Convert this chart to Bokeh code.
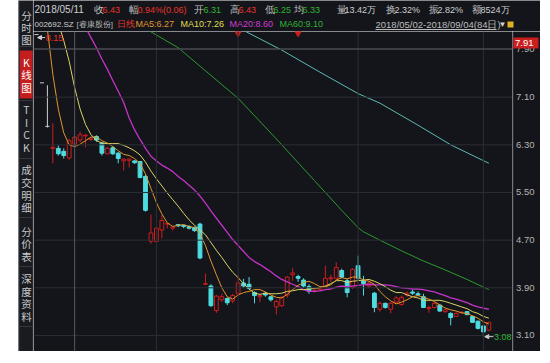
import numpy as np
from bokeh.plotting import figure
from bokeh.layouts import row, column
from bokeh.models import Range1d, Span, Label, Arrow, NormalHead, Spacer
from bokeh.core.properties import value
from bokeh.embed import file_html
from bokeh.resources import INLINE

# ---------------- data ----------------
opens = [8.15, 7.34, 6.61, 6.24, 6.24, 6.19, 6.08, 6.31, 6.38, 6.45,
         6.39, 6.44, 6.33, 6.15, 6.25, 6.16, 6.03, 6.04, 6.03, 6.02,
         5.77, 4.68, 4.68, 4.87, 4.97, 4.90, 4.96, 4.95, 4.93, 4.91,
         4.97, 3.96, 3.93, 3.52, 3.70, 3.72, 3.68, 3.80, 3.98, 3.96,
         3.82, 3.75, 3.81, 3.75, 3.58, 3.60, 3.78, 4.12, 4.09, 4.03,
         3.92, 3.84, 3.87, 3.91, 4.05, 4.06, 4.19, 4.02, 3.91, 4.27,
         4.02, 3.93, 3.81, 3.54, 3.64, 3.54, 3.66, 3.62, 3.78, 3.83,
         3.80, 3.75, 3.55, 3.57, 3.61, 3.50, 3.47, 3.42, 3.48, 3.50,
         3.42, 3.34, 3.26, 3.19]
highs = [8.15, 7.34, 7.30, 6.66, 6.29, 6.24, 6.40, 6.43, 6.52, 6.48,
         6.42, 6.46, 6.35, 6.27, 6.28, 6.18, 6.07, 6.07, 6.04, 6.03,
         5.80, 5.13, 4.93, 5.12, 4.99, 4.93, 4.97, 4.96, 4.95, 4.93,
         4.99, 4.14, 3.96, 3.78, 3.80, 3.74, 3.80, 4.11, 4.05, 4.08,
         3.84, 3.80, 3.83, 3.76, 3.70, 3.76, 4.10, 4.23, 4.12, 4.06,
         3.96, 3.88, 3.92, 4.27, 4.12, 4.33, 4.22, 4.05, 4.23, 4.44,
         4.10, 4.02, 3.83, 3.67, 3.65, 3.66, 3.76, 3.77, 3.84, 3.87,
         3.84, 3.80, 3.60, 3.66, 3.63, 3.55, 3.49, 3.49, 3.51, 3.51,
         3.43, 3.35, 3.27, 3.33]
lows = [8.15, 7.34, 6.59, 5.99, 6.12, 6.07, 6.05, 6.25, 6.34, 6.26,
        6.36, 6.35, 6.12, 6.14, 6.13, 5.99, 5.87, 5.92, 5.98, 5.74,
        5.18, 4.64, 4.65, 4.73, 4.90, 4.86, 4.92, 4.90, 4.88, 4.84,
        4.38, 3.95, 3.58, 3.48, 3.66, 3.61, 3.64, 3.76, 3.90, 3.87,
        3.64, 3.66, 3.75, 3.67, 3.45, 3.58, 3.73, 4.02, 4.00, 3.90,
        3.80, 3.82, 3.85, 3.89, 4.00, 4.04, 4.06, 3.74, 3.88, 4.03,
        3.77, 3.90, 3.49, 3.50, 3.55, 3.47, 3.64, 3.60, 3.75, 3.78,
        3.76, 3.56, 3.48, 3.55, 3.50, 3.48, 3.27, 3.41, 3.47, 3.44,
        3.31, 3.20, 3.08, 3.17]
closes = [8.15, 7.34, 6.61, 6.26, 6.15, 6.12, 6.37, 6.43, 6.47, 6.46,
          6.40, 6.38, 6.16, 6.24, 6.15, 6.07, 6.06, 6.06, 6.00, 5.75,
          5.20, 4.82, 4.90, 5.03, 4.98, 4.92, 4.94, 4.93, 4.90, 4.86,
          4.40, 3.97, 3.60, 3.76, 3.75, 3.65, 3.77, 3.98, 3.93, 3.89,
          3.77, 3.77, 3.78, 3.70, 3.67, 3.74, 4.08, 4.15, 4.06, 3.93,
          3.84, 3.86, 3.90, 4.06, 4.07, 4.24, 4.08, 3.82, 4.21, 4.06,
          3.97, 3.98, 3.57, 3.64, 3.57, 3.64, 3.73, 3.74, 3.81, 3.81,
          3.78, 3.57, 3.57, 3.64, 3.51, 3.53, 3.40, 3.47, 3.49, 3.45,
          3.32, 3.22, 3.16, 3.32]

ma5 = [10.00, 9.16, 8.24, 7.48, 6.90, 6.50, 6.30, 6.27, 6.31, 6.37,
       6.43, 6.43, 6.37, 6.33, 6.27, 6.20, 6.14, 6.12, 6.07, 5.99,
       5.81, 5.57, 5.33, 5.14, 4.99, 4.93, 4.95, 4.96, 4.93, 4.91,
       4.81, 4.61, 4.35, 4.12, 3.90, 3.75, 3.71, 3.78, 3.82, 3.84,
       3.87, 3.87, 3.83, 3.78, 3.74, 3.73, 3.79, 3.87, 3.94, 3.99,
       4.01, 3.97, 3.92, 3.92, 3.95, 4.03, 4.07, 4.05, 4.08, 4.08,
       4.03, 4.01, 3.96, 3.84, 3.75, 3.68, 3.63, 3.66, 3.70, 3.75,
       3.77, 3.74, 3.71, 3.67, 3.61, 3.56, 3.53, 3.51, 3.48, 3.47,
       3.43, 3.39, 3.33, 3.29]
ma10 = [9.90, 9.50, 9.10, 8.70, 8.35, 8.05, 7.70, 7.26, 6.90, 6.64,
        6.47, 6.37, 6.33, 6.32, 6.32, 6.32, 6.29, 6.25, 6.20, 6.13,
        6.01, 5.86, 5.73, 5.61, 5.49, 5.38, 5.27, 5.15, 5.04, 4.95,
        4.87, 4.79, 4.66, 4.53, 4.41, 4.28, 4.16, 4.07, 3.97, 3.88,
        3.81, 3.79, 3.81, 3.80, 3.80, 3.81, 3.84, 3.85, 3.87, 3.87,
        3.88, 3.89, 3.90, 3.93, 3.97, 4.02, 4.02, 3.99, 4.01, 4.02,
        4.03, 4.04, 4.01, 3.97, 3.92, 3.86, 3.82, 3.82, 3.78, 3.75,
        3.73, 3.69, 3.69, 3.69, 3.69, 3.67, 3.64, 3.61, 3.58, 3.55,
        3.50, 3.47, 3.42, 3.39]
ma20 = [9.60, 9.50, 9.40, 9.25, 9.10, 8.95, 8.78, 8.60, 8.43, 8.27,
        8.10, 7.93, 7.74, 7.57, 7.38, 7.20, 7.01, 6.75, 6.55, 6.39,
        6.24, 6.11, 6.03, 5.96, 5.91, 5.85, 5.77, 5.70, 5.62, 5.54,
        5.44, 5.32, 5.19, 5.07, 4.95, 4.83, 4.71, 4.61, 4.51, 4.41,
        4.34, 4.29, 4.23, 4.17, 4.10, 4.04, 4.00, 3.96, 3.92, 3.87,
        3.84, 3.84, 3.85, 3.87, 3.88, 3.91, 3.93, 3.92, 3.93, 3.94,
        3.95, 3.96, 3.95, 3.95, 3.95, 3.94, 3.92, 3.90, 3.89, 3.88,
        3.88, 3.87, 3.85, 3.83, 3.80, 3.77, 3.73, 3.71, 3.68, 3.65,
        3.61, 3.58, 3.56, 3.54]
ma60_idx = [0, 7, 14, 20, 26, 30, 37, 44, 51, 56, 59, 60, 63, 67, 71, 75, 79, 83]
ma60_val = [9.45, 9.10, 8.65, 8.25, 7.93, 7.62, 7.08, 6.40, 5.70, 5.20, 4.91,
            4.84, 4.70, 4.52, 4.35, 4.20, 4.04, 3.87]
malong_idx = [0, 20, 30, 38, 45, 52, 59, 63, 70, 76, 83]
malong_val = [10.10, 9.10, 8.60, 8.22, 7.89, 7.52, 7.16, 7.00, 6.63, 6.30, 5.99]

price_ticks = [3.10, 3.90, 4.70, 5.50, 6.30, 7.10, 7.90]
month_start_idx = [22, 37, 59, 82]
event_idx = [37, 48]
event_price = [8.17, 8.17]
cursor_idx = 7
cursor_price = 7.91
cursor_date = "2018/05/11"
cursor_avg = 6.33
cursor_extra = [("量", "13.42万"), ("换", "2.32%"), ("振", "2.82%"), ("额", "8524万")]
stock_code = "002692.SZ"
stock_name = "[睿康股份]"
period_name = "日线"
range_text = "2018/05/02-2018/09/04(84日)"
side_groups = [["分", "时", "图"], ["K", "线", "图"], ["T", "I", "C", "K"],
               ["成", "交", "明", "细"], ["分", "价", "表"], ["深", "度", "资", "料"]]

# ---------------- styling ----------------
FONT = "Noto Sans CJK SC"
NUMFONT = "Liberation Sans"
BG = "#13151a"
SIDE_BG = "#191b20"
GRID = "#2b2e34"
CROSS = "#56595f"
AXIS = "#3c3f45"
RED = "#cf1d1d"
CYAN = "#4edce0"
DOJI = "#cfcfcf"
TXT_RED = "#e8342c"
TXT_GREEN = "#2fb52f"
TXT = "#cfcfcf"
LBL = "#bdbdbd"
C_MA5 = "#e0962f"
C_MA10 = "#dcd465"
C_MA20 = "#c533c8"
C_MA60 = "#2e9a2e"
C_LONG = "#5fb8b5"
PX_PER_PRICE = 59.58

n = len(closes)
x = np.arange(n)
O, H, L, C = (np.array(v) for v in (opens, highs, lows, closes))
top = np.maximum(O, C)
bot = np.minimum(O, C)
up = C > O
dn = C < O
fl = C == O

yr = Range1d(2.831, 8.202)

# ---------------- main price panel ----------------
main = figure(width=479, height=320, output_backend="svg", toolbar_location=None,
              x_range=Range1d(-0.55, 87.34), y_range=yr,
              x_axis_location=None, y_axis_location=None,
              background_fill_color=BG, border_fill_color=BG, min_border=0)
main.outline_line_color = None
main.grid.visible = False

for t in price_ticks:
    main.add_layout(Span(location=t, dimension="width", line_color=GRID, line_width=1))
for m in month_start_idx:
    main.add_layout(Span(location=m, dimension="height", line_color=GRID, line_width=1))
main.add_layout(Span(location=cursor_idx, dimension="height", line_color=CROSS, line_width=1))
main.add_layout(Span(location=cursor_price, dimension="width", line_color=CROSS, line_width=1))

# wicks
main.segment(x[up], H[up], x[up], top[up], color=RED, line_width=1)
main.segment(x[up], bot[up], x[up], L[up], color=RED, line_width=1)
main.segment(x[dn], H[dn], x[dn], L[dn], color=CYAN, line_width=1)
main.segment(x[fl], H[fl], x[fl], L[fl], color=DOJI, line_width=1)
# bodies
main.vbar(x=x[up], width=0.7, top=top[up], bottom=bot[up], fill_color=BG,
          line_color=RED, line_width=1)
main.vbar(x=x[dn], width=0.7, top=top[dn], bottom=bot[dn], fill_color=CYAN,
          line_color=CYAN, line_width=1)
main.segment(x[fl] - 0.38, O[fl], x[fl] + 0.38, O[fl], color=DOJI, line_width=1)

# moving averages
main.line(ma60_idx, ma60_val, color=C_MA60, line_width=1)
main.line(malong_idx, malong_val, color=C_LONG, line_width=1)
main.line(x, ma20, color=C_MA20, line_width=1.3)
main.line(x, ma10, color=C_MA10, line_width=1)
main.line(x, ma5, color=C_MA5, line_width=1)

# event markers
main.scatter(event_idx, event_price, marker="inverted_triangle", size=6,
             color=RED, line_color=RED)

# high / low markers
hi_i = int(np.argmax(H)); hi = float(H[hi_i])
lo_i = int(np.argmin(L)); lo = float(L[lo_i])
dy = 0.05
main.add_layout(Arrow(end=NormalHead(size=4, line_color=DOJI, fill_color=DOJI),
                      x_start=hi_i + 1.6, y_start=hi - dy, x_end=hi_i + 0.2, y_end=hi - dy,
                      line_color=DOJI, line_width=1))
main.add_layout(Label(x=hi_i + 1.7, y=hi - dy, text=f"{hi:.2f}", text_color=TXT_RED,
                      text_font=NUMFONT, text_font_size="9px", text_baseline="middle"))
main.add_layout(Arrow(end=NormalHead(size=4, line_color=DOJI, fill_color=DOJI),
                      x_start=lo_i + 1.85, y_start=lo, x_end=lo_i + 0.25, y_end=lo,
                      line_color=DOJI, line_width=1))
main.add_layout(Label(x=lo_i + 1.95, y=lo, text=f"{lo:.2f}", text_color=TXT_GREEN,
                      text_font=NUMFONT, text_font_size="9px", text_baseline="middle"))

# ---------------- price scale strip (right) ----------------
scale = figure(width=28, height=320, output_backend="svg", toolbar_location=None,
               x_range=Range1d(0, 28), y_range=yr,
               x_axis_location=None, y_axis_location=None,
               background_fill_color=BG, border_fill_color=BG, min_border=0)
scale.outline_line_color = None
scale.grid.visible = False
scale.add_layout(Span(location=0.5, dimension="height", line_color=AXIS, line_width=1))
scale.text(x=[3.5] * len(price_ticks), y=price_ticks,
           text=[f"{t:.2f}" for t in price_ticks], text_color="#b4b4b4",
           text_font=value(NUMFONT), text_font_size="9.5px",
           text_baseline="middle", text_align="left")
box_h = 11.5 / PX_PER_PRICE
scale.quad(left=[0], right=[26], bottom=[cursor_price + 0.3 / PX_PER_PRICE],
           top=[cursor_price + box_h], fill_color="#c81e1e", line_color=None)
scale.text(x=[2.5], y=[cursor_price + box_h / 2], text=[f"{cursor_price:.2f}"],
           text_color="white", text_font=value(NUMFONT), text_font_size="9.5px",
           text_baseline="middle", text_align="left")

# ---------------- header ----------------
head = figure(width=507, height=31, output_backend="svg", toolbar_location=None,
              x_range=Range1d(33, 540), y_range=Range1d(31, 0),
              x_axis_location=None, y_axis_location=None,
              background_fill_color=BG, border_fill_color=BG, min_border=0)
head.outline_line_color = None
head.grid.visible = False

k = cursor_idx
prev = closes[k - 1]
chg = closes[k] - prev


def pc(v):
    return TXT_RED if v > prev else (TXT_GREEN if v < prev else TXT)


row1 = [(cursor_date, TXT), ("收", LBL), (f"{closes[k]:.2f}", pc(closes[k])),
        ("幅", LBL), (f"{chg / prev * 100:.2f}%({chg:.2f})", pc(closes[k])),
        ("开", LBL), (f"{opens[k]:.2f}", pc(opens[k])),
        ("高", LBL), (f"{highs[k]:.2f}", pc(highs[k])),
        ("低", LBL), (f"{lows[k]:.2f}", pc(lows[k])),
        ("均", LBL), (f"{cursor_avg:.2f}", pc(cursor_avg))]
for a, b in cursor_extra:
    row1 += [(a, LBL), (b, TXT)]
row1_x = [34, 93, 102, 128, 137, 193, 203, 229, 238, 264, 273, 293, 302,
          336, 344, 385, 394, 428, 437, 471, 480]
row1_size = ["10px"] + ["10px", "9px"] * 10
ma60_now = ma60_val[ma60_idx.index(k)]
row2 = [(stock_code, TXT), (stock_name, LBL), (period_name, TXT_RED),
        (f"MA5:{ma5[k]:.2f}", C_MA5), (f"MA10:{ma10[k]:.2f}", "#e2dc50"),
        (f"MA20:{ma20[k]:.2f}", "#d03cd0"), (f"MA60:{ma60_now:.2f}", "#34b034"),
        (range_text, LBL), ("▼", TXT)]
row2_x = [34, 76, 116, 135, 180, 229, 279, 375, 498]
row2_size = ["8px", "8px", "8.5px", "9px", "9px", "9px", "9px", "9.5px", "8px"]

head.text(x=row1_x, y=[9] * len(row1), text=[t for t, _ in row1],
          text_color=[c for _, c in row1], text_font=value(NUMFONT),
          text_font_size=row1_size, text_baseline="middle", text_align="left")
head.text(x=row2_x, y=[23.5] * len(row2), text=[t for t, _ in row2],
          text_color=[c for _, c in row2], text_font=value(NUMFONT),
          text_font_size=row2_size, text_baseline="middle", text_align="left")
head.segment(x0=[375], y0=[29], x1=[496], y1=[29], color=LBL, line_width=1)
head.quad(left=[507], right=[513], top=[21], bottom=[27], fill_color="#e0b020",
          line_color=None)

# ---------------- side tabs ----------------
side = figure(width=15, height=351, output_backend="svg", toolbar_location=None,
              x_range=Range1d(18, 33), y_range=Range1d(351, 0),
              x_axis_location=None, y_axis_location=None,
              background_fill_color=SIDE_BG, border_fill_color=SIDE_BG, min_border=0)
side.outline_line_color = None
side.grid.visible = False
side.quad(left=[19], right=[33], top=[50], bottom=[98], fill_color="#c41d1d",
          line_color=None)
sep_y = [46, 100, 158, 217, 266, 326]
side.segment(x0=[19] * len(sep_y), y0=sep_y, x1=[33] * len(sep_y), y1=sep_y,
             color="#34373d", line_width=1)
side.segment(x0=[18.5, 32.5], y0=[0, 0], x1=[18.5, 32.5], y1=[351, 351],
             color="#34373d", line_width=1)
group_y = [[14.5, 26.5, 38.5], [62, 74, 87], [109, 122, 134, 147],
           [169, 182, 195, 207], [231, 243, 256], [278, 291, 303, 316]]
chars, cy, cc = [], [], []
for gi, (g, ys) in enumerate(zip(side_groups, group_y)):
    chars += g
    cy += ys
    cc += ["#ffffff" if gi == 1 else "#c8c8c8"] * len(g)
side.text(x=[26] * len(chars), y=cy, text=chars, text_color=cc,
          text_font=value(FONT), text_font_size="10.5px",
          text_baseline="middle", text_align="center")

layout = row(Spacer(width=18, height=351), side, column(head, row(main, scale)))
open("out.html", "w").write(file_html(layout, INLINE))
